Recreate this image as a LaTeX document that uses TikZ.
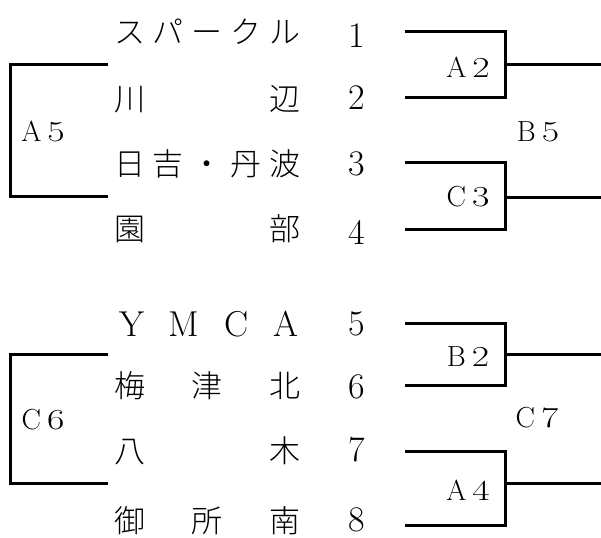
\documentclass[tikz,border=0pt]{standalone}
\usepackage{fontspec}
\newfontfamily\jp{Noto Sans CJK JP Light}
\newcommand{\lbl}[2]{#1\hspace{6pt}\scalebox{1.3}[1]{#2}}
\begin{document}
\begin{tikzpicture}[x=1pt,y=-1pt,
  every node/.style={inner sep=0pt,outer sep=0pt},
  team/.style={font=\jp\fontsize{31}{31}\selectfont},
  latin/.style={font=\fontsize{36}{36}\selectfont},
  num/.style={font=\fontsize{36}{36}\selectfont},
  lab/.style={font=\fontsize{29}{29}\selectfont},
  br/.style={line width=3pt,line cap=butt,line join=miter}]
\useasboundingbox (0,0) rectangle (601,537);
% team names
\node[team] (t1) at (207,32) {\makebox[186pt][s]{ス\hfill パ\hfill ー\hfill ク\hfill ル}};
\node[team] (t2) at (207,99) {\makebox[186pt][s]{川\hfill 辺}};
\node[team] (t3) at (207,164) {\makebox[186pt][s]{日\hfill 吉\hfill ・\hfill 丹\hfill 波}};
\node[team] (t4) at (207,229) {\makebox[186pt][s]{園\hfill 部}};
\node[latin] (t5) at (208.5,324) {\makebox[179pt][s]{Y\hfill M\hfill C\hfill A}};
\node[team] (t6) at (207,386) {\makebox[186pt][s]{梅\hfill 津\hfill 北}};
\node[team] (t7) at (207,451) {\makebox[186pt][s]{八\hfill 木}};
\node[team] (t8) at (207,521) {\makebox[186pt][s]{御\hfill 所\hfill 南}};
% numbers
\node[num] (n1) at (357,36) {1};
\node[num] (n2) at (357,98) {2};
\node[num] (n3) at (357,164) {3};
\node[num] (n4) at (357,232) {4};
\node[num] (n5) at (357,323.5) {5};
\node[num] (n6) at (357,387) {6};
\node[num] (n7) at (357,450) {7};
\node[num] (n8) at (357,520) {8};
% match labels
\node[lab] (A5) at (43,131) {\lbl{A}{5}};
\node[lab] (A2) at (468,67) {\lbl{A}{2}};
\node[lab] (C3) at (468,197) {\lbl{C}{3}};
\node[lab] (B5) at (538,132) {\lbl{B}{5}};
\node[lab] (C6) at (43,420) {\lbl{C}{6}};
\node[lab] (B2) at (468,357) {\lbl{B}{2}};
\node[lab] (A4) at (468,490) {\lbl{A}{4}};
\node[lab] (C7) at (537,418) {\lbl{C}{7}};
% bracket coordinates
\coordinate (a2t) at (405,32);  \coordinate (a2tr) at (505,32);
\coordinate (a2b) at (405,98);  \coordinate (a2br) at (505,98);
\coordinate (a2o) at (505,65);  \coordinate (a2e) at (601,65);
\coordinate (c3t) at (405,163); \coordinate (c3tr) at (505,163);
\coordinate (c3b) at (405,229); \coordinate (c3br) at (505,229);
\coordinate (c3o) at (505,197); \coordinate (c3e) at (601,197);
\coordinate (b2t) at (405,323); \coordinate (b2tr) at (505,323);
\coordinate (b2b) at (405,385); \coordinate (b2br) at (505,385);
\coordinate (b2o) at (505,354); \coordinate (b2e) at (601,354);
\coordinate (a4t) at (405,451); \coordinate (a4tr) at (505,451);
\coordinate (a4b) at (405,525); \coordinate (a4br) at (505,525);
\coordinate (a4o) at (505,483); \coordinate (a4e) at (601,483);
\coordinate (a5t) at (108,65);  \coordinate (a5tl) at (10,65);
\coordinate (a5b) at (108,196); \coordinate (a5bl) at (10,196);
\coordinate (c6t) at (108,354); \coordinate (c6tl) at (10,354);
\coordinate (c6b) at (108,483); \coordinate (c6bl) at (10,483);
% brackets
\draw[br] (a2t) -- (a2tr) -- (a2br) -- (a2b);
\draw[br] (a2o) -- (a2e);
\draw[br] (c3t) -- (c3tr) -- (c3br) -- (c3b);
\draw[br] (c3o) -- (c3e);
\draw[br] (b2t) -- (b2tr) -- (b2br) -- (b2b);
\draw[br] (b2o) -- (b2e);
\draw[br] (a4t) -- (a4tr) -- (a4br) -- (a4b);
\draw[br] (a4o) -- (a4e);
\draw[br] (a5t) -- (a5tl) -- (a5bl) -- (a5b);
\draw[br] (c6t) -- (c6tl) -- (c6bl) -- (c6b);
\end{tikzpicture}
\end{document}
